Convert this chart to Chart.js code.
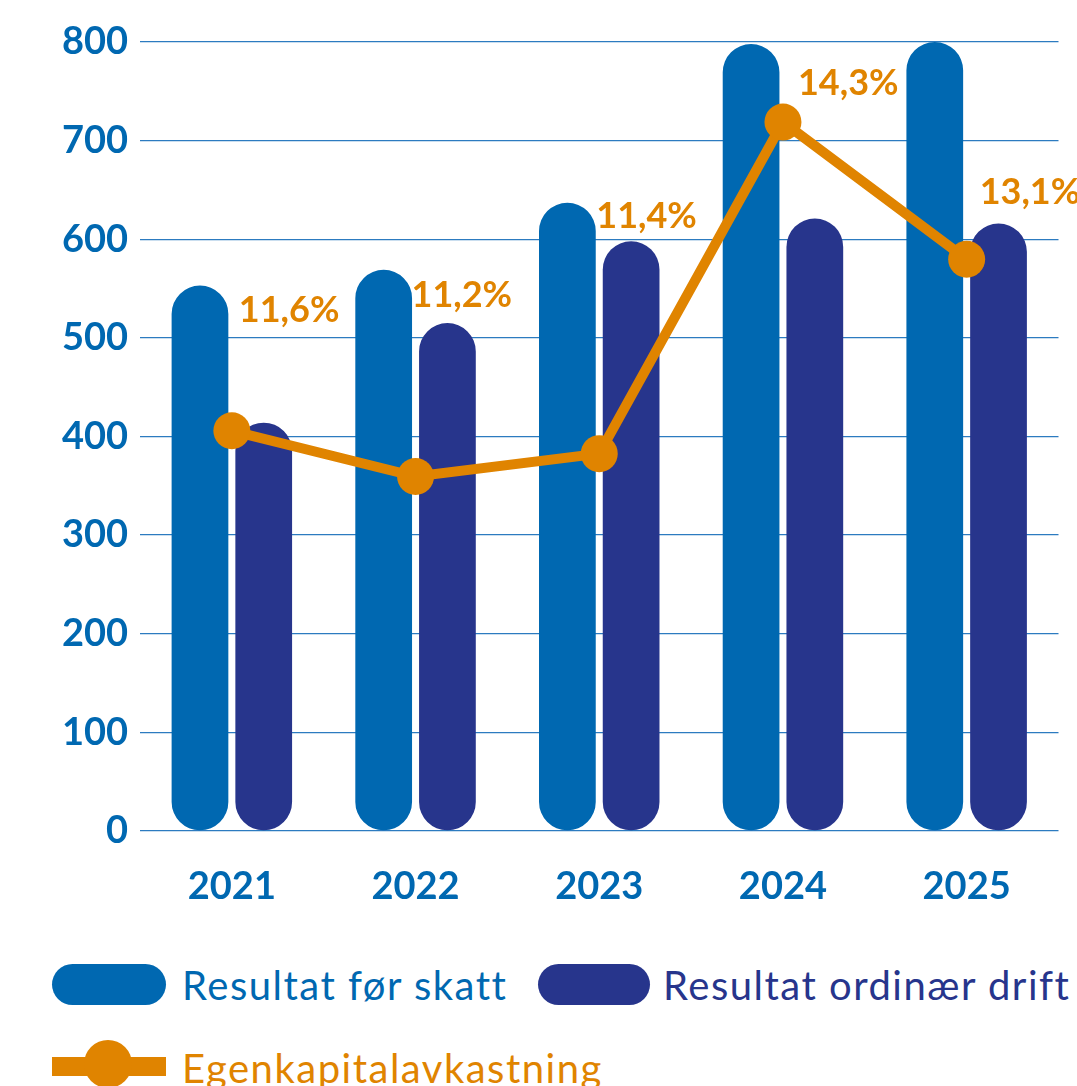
<!DOCTYPE html>
<html>
<head>
<meta charset="utf-8">
<script src="https://cdn.jsdelivr.net/npm/chart.js@4.4.1/dist/chart.umd.min.js"></script>
<style>
  html, body { margin: 0; padding: 0; background: #ffffff; width: 1077px; height: 1086px; overflow: hidden; }
  #wrap { position: absolute; left: 0; top: 0; width: 1077px; height: 940px; }
  .leg { position: absolute; font-family: Lato, "Open Sans", sans-serif; font-size: 40px; letter-spacing: 1.5px; white-space: nowrap; line-height: 1; }
  .pill { position: absolute; border-radius: 21px; }
</style>
</head>
<body>
<div id="wrap"><canvas id="c" width="1077" height="940"></canvas></div>

<div class="pill" style="left:52px;top:964px;width:114px;height:41px;background:#0068B1;"></div>
<div class="leg" id="l1" style="left:182px;top:965px;color:#0068B1;"></div>
<div class="pill" style="left:538px;top:964px;width:112px;height:41px;background:#27358C;"></div>
<div class="leg" id="l2" style="left:663px;top:965px;color:#27358C;"></div>
<div style="position:absolute;left:52px;top:1057px;width:114px;height:19px;background:#E08400;"></div>
<div style="position:absolute;left:84px;top:1040px;width:48px;height:48px;border-radius:24px;background:#E08400;"></div>
<div class="leg" id="l3" style="left:182px;top:1048px;color:#E08400;"></div>

<script>
// ---- data ----
const categories = ["2021", "2022", "2023", "2024", "2025"];
const resultatForSkatt = [553, 569, 637, 798, 800];
const resultatOrdinaerDrift = [414, 515, 598, 621, 616];
const egenkapitalavkastning = [11.6, 11.2, 11.4, 14.3, 13.1];
const percentLabels = ["11,6%", "11,2%", "11,4%", "14,3%", "13,1%"];
const seriesNames = ["Resultat før skatt", "Resultat ordinær drift", "Egenkapitalavkastning"];
const yTicks = [0, 100, 200, 300, 400, 500, 600, 700, 800];

// label placement offsets (px) relative to each line point: left edge, top edge
const labelOffsetX = [7, -4, -3, 15, 13];
const labelOffsetY = [-132, -193, -249, -51, -79];

document.getElementById('l1').textContent = seriesNames[0];
document.getElementById('l2').textContent = seriesNames[1];
document.getElementById('l3').textContent = seriesNames[2];

const BLUE = '#0068B1', NAVY = '#27358C', ORANGE = '#E08400';
const FONT = 'Lato, "Open Sans", sans-serif';

const pctLabelPlugin = {
  id: 'pctLabels',
  afterDatasetsDraw(chart) {
    const meta = chart.getDatasetMeta(2);
    const ctx = chart.ctx;
    ctx.save();
    ctx.fillStyle = ORANGE;
    ctx.font = 'bold 36px ' + FONT;
    ctx.textAlign = 'left';
    ctx.textBaseline = 'top';
    meta.data.forEach((pt, i) => {
      ctx.fillText(percentLabels[i], pt.x + labelOffsetX[i], pt.y + labelOffsetY[i] - 6);
    });
    ctx.restore();
  }
};

new Chart(document.getElementById('c'), {
  type: 'bar',
  data: {
    labels: categories,
    datasets: [
      {
        label: seriesNames[0], data: resultatForSkatt, backgroundColor: BLUE,
        borderRadius: 100, borderSkipped: false, yAxisID: 'y', order: 2,
        categoryPercentage: 0.694, barPercentage: 0.89
      },
      {
        label: seriesNames[1], data: resultatOrdinaerDrift, backgroundColor: NAVY,
        borderRadius: 100, borderSkipped: false, yAxisID: 'y', order: 2,
        categoryPercentage: 0.694, barPercentage: 0.89
      },
      {
        type: 'line', label: seriesNames[2], data: egenkapitalavkastning,
        borderColor: ORANGE, backgroundColor: ORANGE, borderWidth: 10,
        pointRadius: 18.5, pointHoverRadius: 18.5, pointBackgroundColor: ORANGE, pointBorderWidth: 0,
        tension: 0, yAxisID: 'y1', order: 0
      }
    ]
  },
  options: {
    responsive: false,
    devicePixelRatio: 1,
    animation: false,
    layout: { padding: { left: 0, right: 15, top: 42, bottom: 0 } },
    plugins: { legend: { display: false }, tooltip: { enabled: false } },
    scales: {
      x: {
        grid: { display: false, drawTicks: false },
        border: { display: false },
        ticks: { color: BLUE, font: { family: FONT, size: 38, weight: 'bold' }, padding: 33 },
        afterFit(scale) { scale.height = 109; }
      },
      y: {
        min: 0, max: 800,
        afterBuildTicks(scale) { scale.ticks = yTicks.map(v => ({ value: v })); },
        grid: { color: '#2C7BC0', lineWidth: 1.3, drawTicks: false },
        border: { display: false },
        ticks: { color: BLUE, font: { family: FONT, size: 38, weight: 'bold' }, padding: 12 },
        afterFit(scale) { scale.width = 140; }
      },
      y1: { display: false, min: 8.1, max: 15.0 }
    }
  },
  plugins: [pctLabelPlugin]
});
</script>
</body>
</html>
